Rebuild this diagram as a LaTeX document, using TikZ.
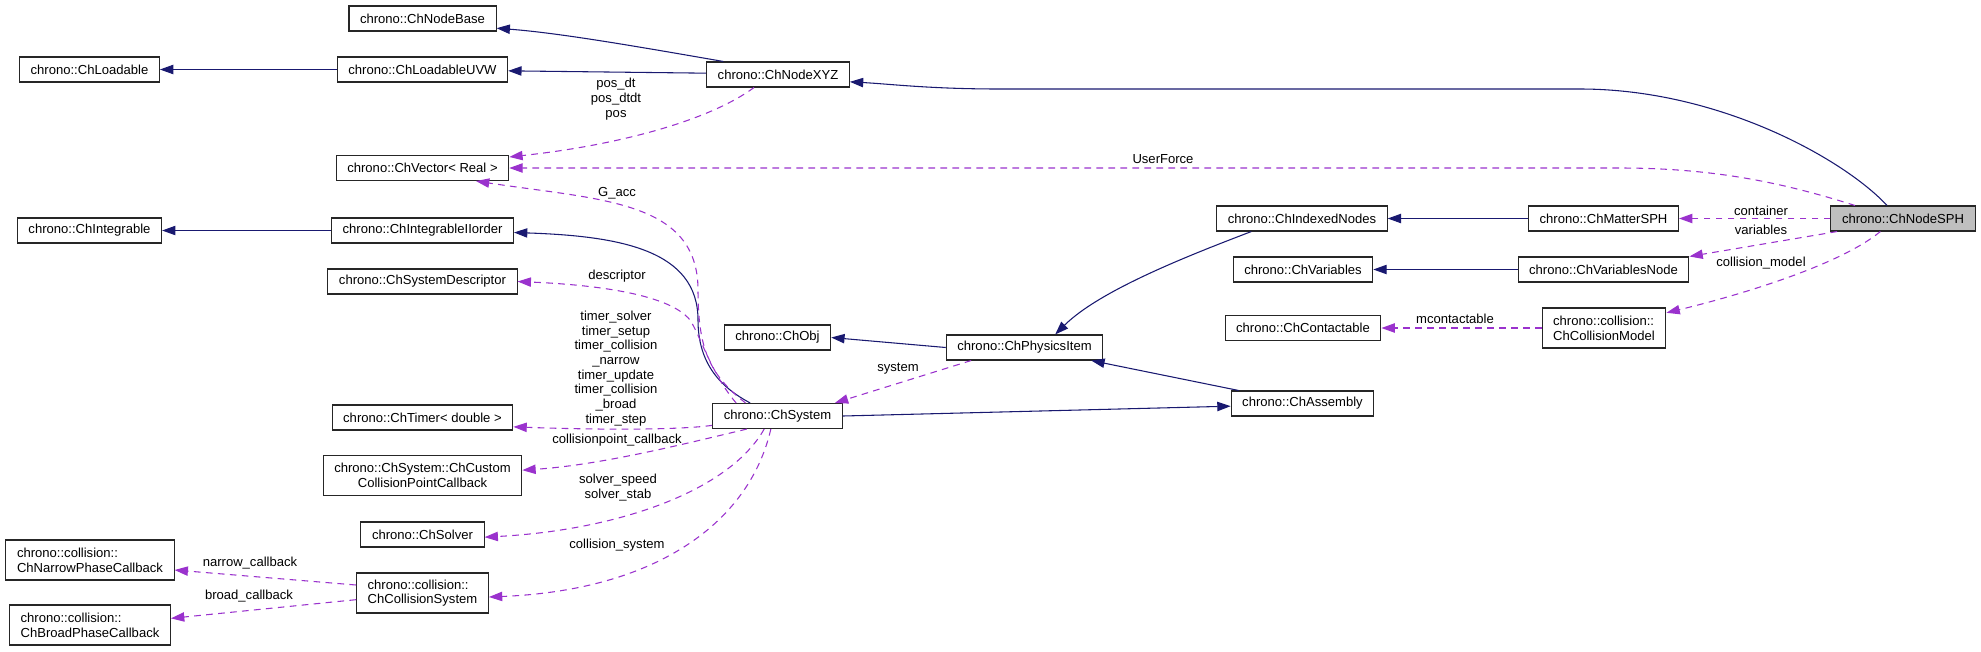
\documentclass[tikz,border=0pt]{standalone}
\usepackage{fontspec}
\setmainfont{Liberation Sans}
\usepackage{tikz}
\usetikzlibrary{arrows.meta}
\definecolor{inhblue}{RGB}{25,25,112}
\definecolor{usepurple}{RGB}{154,50,205}
\definecolor{focusgray}{RGB}{191,191,191}

\begin{document}
\begin{tikzpicture}[x=0.75pt, y=-0.75pt,
  font=\fontsize{9.8}{11}\selectfont,
  classbox/.style={draw=black!85, line width=0.8pt, fill=white, inner xsep=8.3pt, inner ysep=0pt, minimum height=18.75pt},
  twoline/.style={classbox, minimum height=30pt, align=left},
  focusbox/.style={classbox, fill=focusgray},
  inherit/.style={color=inhblue, line width=0.8pt, -{Triangle[length=10pt, width=7pt]}},
  usage/.style={color=usepurple, line width=0.8pt, dash pattern=on 5pt off 4pt, -{Triangle[length=10pt, width=7pt]}},
  lbl/.style={align=center, inner sep=0pt}]

  \useasboundingbox (0,0) rectangle (1981,651);

  % Left column
  \node[classbox] (loadable) at (89.5,69.5) {chrono::ChLoadable};
  \node[classbox] (integrable) at (89.5,230.5) {chrono::ChIntegrable};
  \node[twoline] (narrow) at (90,560) {chrono::collision::\\ChNarrowPhaseCallback};
  \node[twoline] (broad) at (90,625) {chrono::collision::\\ChBroadPhaseCallback};

  % Second column
  \node[classbox] (nodebase) at (422.5,18.5) {chrono::ChNodeBase};
  \node[classbox] (loadableuvw) at (422.5,69.5) {chrono::ChLoadableUVW};
  \node[classbox] (vector) at (422.5,168) {chrono::ChVector\textless{} Real \textgreater};
  \node[classbox] (iiorder) at (422.5,230.5) {chrono::ChIntegrableIIorder};
  \node[classbox] (descriptor) at (422.5,281.5) {chrono::ChSystemDescriptor};
  \node[classbox] (timer) at (422.5,417.5) {chrono::ChTimer\textless{} double \textgreater};
  \node[twoline, align=center] (cpcallback) at (422.5,475.5) {chrono::ChSystem::ChCustom\\CollisionPointCallback};
  \node[classbox] (solver) at (422.5,534.5) {chrono::ChSolver};
  \node[twoline] (collsystem) at (422.5,593) {chrono::collision::\\ChCollisionSystem};

  % Middle
  \node[classbox] (nodexyz) at (778,74.5) {chrono::ChNodeXYZ};
  \node[classbox] (obj) at (777.5,337.5) {chrono::ChObj};
  \node[classbox] (system) at (777.5,416) {chrono::ChSystem};
  \node[classbox] (physicsitem) at (1024.5,347.5) {chrono::ChPhysicsItem};

  % Right columns
  \node[classbox] (indexednodes) at (1302,218.5) {chrono::ChIndexedNodes};
  \node[classbox] (variables) at (1303,269.5) {chrono::ChVariables};
  \node[classbox] (contactable) at (1303,328) {chrono::ChContactable};
  \node[classbox] (assembly) at (1302.5,403.5) {chrono::ChAssembly};
  \node[classbox] (mattersph) at (1603.5,218.5) {chrono::ChMatterSPH};
  \node[classbox] (variablesnode) at (1603.5,269.5) {chrono::ChVariablesNode};
  \node[twoline] (collmodel) at (1604,328) {chrono::collision::\\ChCollisionModel};
  \node[focusbox] (nodesph) at (1903,218.5) {chrono::ChNodeSPH};

  % Inheritance
  \draw[inherit] ([xshift=-41pt]nodexyz.north) .. controls (640,47) and (560,33) .. ([yshift=2.5pt]nodebase.south east);
  \draw[inherit] ([yshift=1pt]nodexyz.west) -- ([yshift=-1pt]loadableuvw.east);
  \draw[inherit] (loadableuvw.west) -- (loadable.east);
  \draw[inherit] (iiorder.west) -- (integrable.east);
  \draw[inherit] ([xshift=-12pt]nodesph.north) .. controls (1845,160) and (1720,89) .. (1580,89) -- (1000,89) .. controls (930,89) and (890,84) .. ([yshift=-5.5pt]nodexyz.east);
  \draw[inherit] (physicsitem.west) -- (obj.east);
  \draw[inherit] ([xshift=6pt]assembly.north west) -- ([xshift=-9pt]physicsitem.south east);
  \draw[inherit] (system.east) -- ([yshift=-2pt]assembly.west);
  \draw[inherit] ([xshift=-38pt]indexednodes.south) .. controls (1190,255) and (1100,290) .. ([xshift=23pt]physicsitem.north);
  \draw[inherit] (mattersph.west) -- (indexednodes.east);
  \draw[inherit] (variablesnode.west) -- (variables.east);
  \draw[inherit] ([xshift=-20.5pt]system.north) .. controls (722,388) and (698,365) .. (698,320) .. controls (698,250) and (620,236) .. ([yshift=-1.5pt]iiorder.east);

  % Members
  \draw[usage] ([xshift=-18pt]nodexyz.south) .. controls (710,120) and (620,145) .. ([yshift=-1.5pt]vector.north east);
  \node[lbl] (lpos) at (616,99) {pos\_dt\\pos\_dtdt\\pos};
  \draw[usage] ([xshift=-36pt]nodesph.north) .. controls (1790,185) and (1720,168) .. (1620,168) -- (vector.east);
  \node[lbl] (luserforce) at (1163,159) {UserForce};
  \draw[usage] ([xshift=-24pt]system.north) .. controls (710,375) and (698,350) .. (698,290) .. controls (698,200) and (600,200) .. ([xshift=-25pt]vector.south east);
  \node[lbl] (lgacc) at (617,193) {G\_acc};
  \draw[usage] ([xshift=-31pt]system.north) .. controls (712,375) and (700,335) .. (690,320) .. controls (670,295) and (600,285) .. (descriptor.east);
  \node[lbl] (ldescriptor) at (617,276) {descriptor};
  \draw[usage] ([yshift=-7pt]system.west) .. controls (680,430) and (600,430) .. ([yshift=-7pt]timer.east);
  \node[lbl] (ltimer) at (616,368.5) {timer\_solver\\timer\_setup\\timer\_collision\\\_narrow\\timer\_update\\timer\_collision\\\_broad\\timer\_step};
  \draw[usage] ([xshift=-23pt]system.south) .. controls (680,445) and (600,465) .. ([yshift=4pt]cpcallback.east);
  \node[lbl] (lcpcallback) at (617,440) {collisionpoint\_callback};
  \draw[usage] ([xshift=-10pt]system.south) .. controls (730,490) and (620,530) .. ([yshift=-2pt]solver.east);
  \node[lbl] (lsolver) at (618,487.5) {solver\_speed\\solver\_stab};
  \draw[usage] ([xshift=-5pt]system.south) .. controls (750,520) and (660,590) .. ([yshift=-3pt]collsystem.east);
  \node[lbl] (lcollsystem) at (617,545) {collision\_system};
  \draw[usage] ([xshift=-40pt]physicsitem.south) -- ([xshift=-6pt]system.north east);
  \node[lbl] (lsystem) at (898,369) {system};
  \draw[usage] (nodesph.west) -- (mattersph.east);
  \node[lbl] (lcontainer) at (1761,211) {container};
  \draw[usage] ([xshift=5pt]nodesph.south west) -- (variablesnode.north east);
  \node[lbl] (lvariables) at (1761,230) {variables};
  \draw[usage] ([xshift=-17pt]nodesph.south) .. controls (1840,265) and (1740,295) .. ([yshift=-4pt]collmodel.north east);
  \node[lbl] (lcollmodel) at (1761,263) {collision\_model};
  \draw[usage] (collmodel.west) -- (contactable.east);
  \node[lbl] (lmcontactable) at (1455,319) {mcontactable};
  \draw[usage] ([yshift=6pt]collsystem.west) -- ([yshift=-7.5pt]narrow.east);
  \node[lbl] (lnarrow) at (250,563) {narrow\_callback};
  \draw[usage] ([yshift=-5pt]collsystem.west) -- ([yshift=5pt]broad.east);
  \node[lbl] (lbroad) at (249,596) {broad\_callback};

\end{tikzpicture}
\end{document}
